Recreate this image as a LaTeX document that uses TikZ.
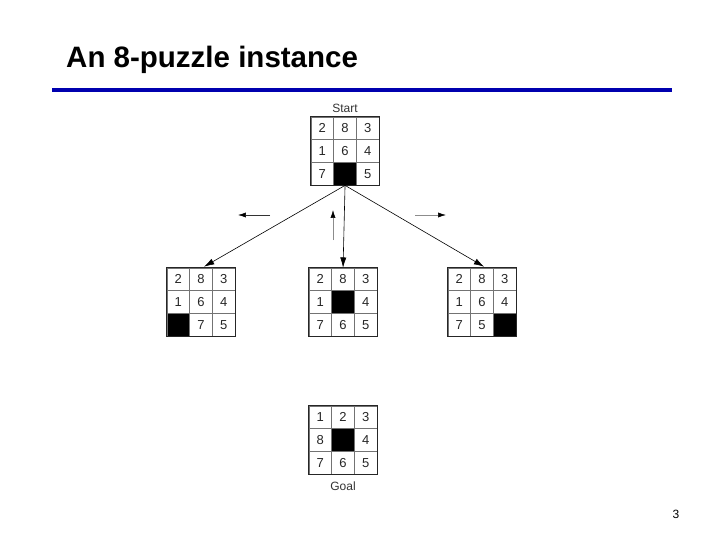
\documentclass[tikz,border=0pt]{standalone}
\usepackage{fontspec}
\setmainfont{Liberation Sans}
\usepackage{xcolor}
\usetikzlibrary{arrows.meta,calc}

\definecolor{titleblue}{RGB}{0,0,175}

\begin{document}
\begin{tikzpicture}[x=1pt, y=-1pt,
    cell/.style={rectangle, draw=black!55, line width=0.6pt, minimum size=22.7pt, inner sep=0pt, font=\fontsize{13}{15}\selectfont, text=black!85},
    blank/.style={cell, fill=black},
    frame/.style={draw=black!85, line width=1.1pt},
    move/.style={-{Latex[length=3.6mm, width=2.2mm]}, line width=0.6pt, black},
    op/.style={-{Latex[length=2.8mm, width=1.8mm, black]}, line width=0.6pt, black!45}
  ]
    \useasboundingbox (0,0) rectangle (720,540);

    % Title and rule
    \node[font=\fontsize{29.5}{34}\selectfont\bfseries, anchor=base west, inner sep=0pt] (title) at (66,68) {An 8-puzzle instance};
    \draw[titleblue, line width=4pt] (52,90) -- (672,90);

    % Boards (0 = blank tile)
    \foreach \name/\x/\y/\cells in {start/311/117/{2,8,3,1,6,4,7,0,5},
                                    left/167/268/{2,8,3,1,6,4,0,7,5},
                                    mid/309/268/{2,8,3,1,0,4,7,6,5},
                                    right/448/268/{2,8,3,1,6,4,7,5,0},
                                    goal/309/406/{1,2,3,8,0,4,7,6,5}} {
      \foreach \v [count=\i from 0] in \cells {
        \pgfmathtruncatemacro\r{div(\i,3)+1}
        \pgfmathtruncatemacro\c{mod(\i,3)+1}
        \ifnum\v=0
          \node[blank] (\name-\r-\c) at ({\x+(\c-0.5)*22.7},{\y+(\r-0.5)*22.7}) {};
        \else
          \node[cell] (\name-\r-\c) at ({\x+(\c-0.5)*22.7},{\y+(\r-0.5)*22.7}) {\v};
        \fi
      }
      \draw[frame] (\name-1-1.north west) rectangle (\name-3-3.south east);
    }

    % Labels
    \node[font=\fontsize{12}{14}\selectfont, text=black!80, anchor=south] (startlbl) at ($(start-1-2.north)+(0,-1)$) {Start};
    \node[font=\fontsize{12}{14}\selectfont, text=black!80, anchor=north] (goallbl) at ($(goal-3-2.south)+(0,4)$) {Goal};
    \node[font=\fontsize{12}{14}\selectfont] (pagenum) at (676,514) {3};

    % Moves of the blank
    \draw[move] (start-3-2.south) -- ($(left-1-2.north)+(3,-1)$);
    \draw[move] (start-3-2.south) -- (mid-1-2.north);
    \draw[move] (start-3-2.south) -- ($(right-1-2.north)+(2,-1)$);

    % Operator arrows
    \coordinate (opL1) at (270,215); \coordinate (opL2) at (238,215);
    \coordinate (opU1) at (333,240); \coordinate (opU2) at (333,210);
    \coordinate (opR1) at (415,215); \coordinate (opR2) at (446,215);
    \draw[op, black!80] (opL1) -- (opL2);
    \draw[op] (opU1) -- (opU2);
    \draw[op] (opR1) -- (opR2);
  \end{tikzpicture}
\end{document}
